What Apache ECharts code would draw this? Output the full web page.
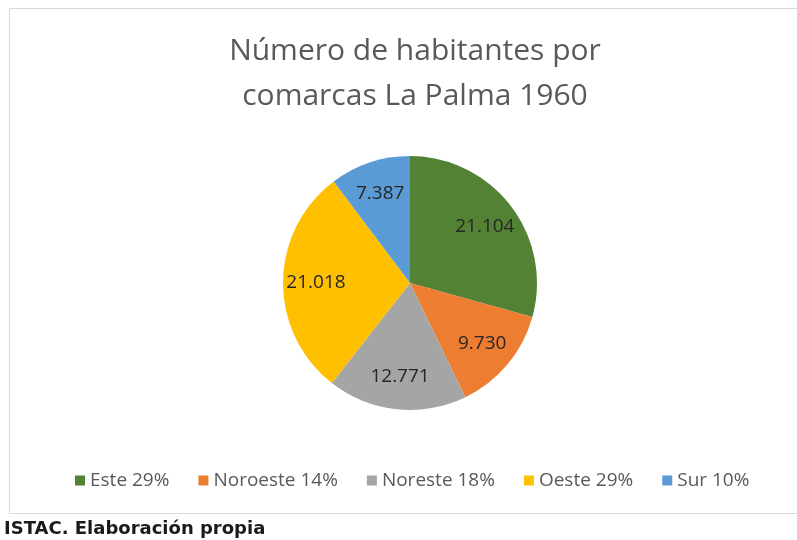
<!DOCTYPE html>
<html>
<head>
    <meta charset="utf-8">
    <title>La Palma 1960</title>
    <script src="https://cdn.jsdelivr.net/npm/echarts@6/dist/echarts.min.js"></script>
</head>
<body style="margin:0;background:#fff;">
    <div id="main" style="width: 797px;height:540px;"></div>
    <script type="text/javascript">
        var comarcas = ['Este', 'Noroeste', 'Noreste', 'Oeste', 'Sur'];
        var habitantes = [21104, 9730, 12771, 21018, 7387];
        var colores = ['#548235', '#ED7D31', '#A5A5A5', '#FFC000', '#5B9BD5'];

        var total = habitantes.reduce(function (a, b) { return a + b; }, 0);

        // 21104 -> "21.104"
        function fmt(v) {
            return String(v).replace(/\B(?=(\d{3})+(?!\d))/g, '.');
        }

        var data = comarcas.map(function (c, i) {
            return { name: c, value: habitantes[i], itemStyle: { color: colores[i] } };
        });

        var myChart = echarts.init(document.getElementById('main'));
        var option = {
            animation: false,
            title: [{
                text: 'Número de habitantes por\ncomarcas La Palma 1960',
                left: 410,
                top: 24,
                textAlign: 'center',
                textStyle: {
                    fontFamily: 'Open Sans',
                    fontWeight: 'normal',
                    fontSize: 30,
                    lineHeight: 45,
                    color: '#595959'
                }
            }, {
                text: 'ISTAC. Elaboración propia',
                left: 4,
                top: 520,
                padding: 0,
                textStyle: {
                    fontFamily: 'DejaVu Sans',
                    fontWeight: 'bold',
                    fontSize: 18,
                    color: '#1a1a1a'
                }
            }],
            graphic: [{
                type: 'rect',
                shape: { x: 9.5, y: 8.5, width: 800, height: 505 },
                style: { fill: 'none', stroke: '#d9d9d9', lineWidth: 1 },
                silent: true
            }],
            legend: {
                bottom: 45,
                left: 70,
                icon: 'rect',
                itemWidth: 10,
                itemHeight: 10,
                itemGap: 29,
                textStyle: {
                    fontFamily: 'Open Sans',
                    fontSize: 19,
                    color: '#595959'
                },
                formatter: function (name) {
                    var i = comarcas.indexOf(name);
                    return name + ' ' + Math.round(habitantes[i] / total * 100) + '%';
                }
            },
            series: [{
                type: 'pie',
                center: [410, 283],
                radius: [0, 127],
                startAngle: 90,
                clockwise: true,
                data: data,
                label: { show: false },
                labelLine: { show: false },
                itemStyle: { borderColor: '#fff', borderWidth: 0 }
            }, {
                // capa transparente solo para colocar las etiquetas más hacia fuera
                type: 'pie',
                center: [410, 283],
                radius: [55, 127],
                startAngle: 90,
                clockwise: true,
                silent: true,
                data: data.map(function (d) {
                    return { name: d.name, value: d.value, itemStyle: { color: 'transparent' } };
                }),
                label: {
                    show: true,
                    position: 'inside',
                    fontFamily: 'Open Sans',
                    fontSize: 19,
                    color: '#262626',
                    formatter: function (p) { return fmt(p.value); }
                },
                labelLine: { show: false },
                emphasis: { disabled: true }
            }]
        };
        myChart.setOption(option);
    </script>
</body>
</html>
